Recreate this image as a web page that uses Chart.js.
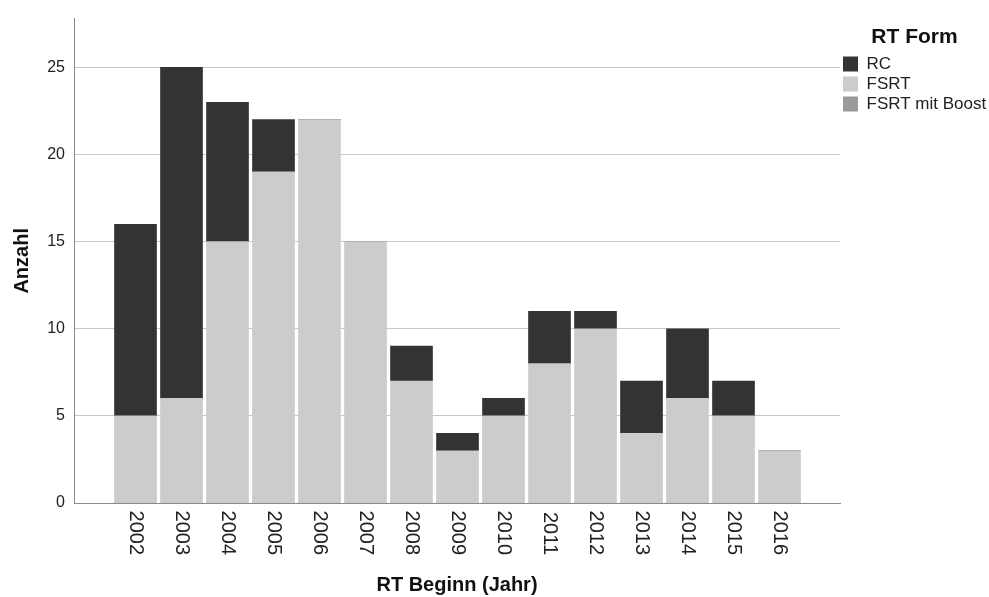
<!DOCTYPE html>
<html>
<head>
<meta charset="utf-8">
<script src="https://cdn.jsdelivr.net/npm/chart.js@4/dist/chart.umd.min.js"></script>
<style>
  html, body { margin: 0; padding: 0; background: #ffffff; }
  #wrap { width: 989px; height: 597px; }
</style>
</head>
<body>
<div id="wrap"><canvas id="c" width="989" height="597"></canvas></div>
<script>
// ---- data ----
const years = [2002, 2003, 2004, 2005, 2006, 2007, 2008, 2009, 2010, 2011, 2012, 2013, 2014, 2015, 2016];
const xTickLabels = ['2002', '2003', '2004', '2005', '2006', '2007', '2008', '2009', '2010', '2011', '2012', '2013', '2014', '2015', '2016'];
const fsrtValues  = [5, 6, 15, 19, 22, 15, 7, 3, 5, 8, 10, 4, 6, 5, 3];
const rcValues    = [11, 19, 8, 3, 0, 0, 2, 1, 1, 3, 1, 3, 4, 2, 0];
const boostValues = [0, 0, 0, 0, 0, 0, 0, 0, 0, 0, 0, 0, 0, 0, 0];
const yTickValues = [0, 5, 10, 15, 20, 25];
const seriesNames = ['RC', 'FSRT', 'FSRT mit Boost'];
const legendTitle = 'RT Form';
const xTitle = 'RT Beginn (Jahr)';
const yTitle = 'Anzahl';

const FONT = "'Liberation Sans', Arial, Helvetica, sans-serif";
const gridColor = '#c8c8c8';
const axisColor = '#8a8a8a';

const toPoints = vals => years.map((y, i) => ({ x: y, y: vals[i] }));

const chart = new Chart(document.getElementById('c'), {
  type: 'bar',
  data: {
    datasets: [
      { label: seriesNames[2], data: toPoints(boostValues), backgroundColor: '#9a9a9a', borderWidth: 0, barThickness: 42 },
      { label: seriesNames[1], data: toPoints(fsrtValues),  backgroundColor: '#cccccc', borderWidth: 0, barThickness: 42 },
      { label: seriesNames[0], data: toPoints(rcValues),    backgroundColor: '#333333', borderWidth: 0, barThickness: 42 }
    ]
  },
  options: {
    responsive: false,
    animation: false,
    devicePixelRatio: 1,
    layout: { padding: { top: 15, left: 0, right: 0, bottom: 0 } },
    plugins: {
      tooltip: { enabled: false },
      legend: {
        position: 'right',
        align: 'start',
        reverse: true,
        maxWidth: 149,
        title: {
          display: true,
          text: legendTitle,
          color: '#111',
          font: { family: FONT, size: 21, weight: 'bold' },
          padding: { top: 12, bottom: 0.3 }
        },
        labels: {
          boxWidth: 15,
          boxHeight: 15,
          padding: 3,
          color: '#222',
          font: { family: FONT, size: 17 }
        }
      }
    },
    scales: {
      x: {
        type: 'linear',
        stacked: true,
        offset: false,
        min: 2000.663,
        max: 2017.315,
        afterBuildTicks: s => { s.ticks = years.map(v => ({ value: v })); },
        afterFit: s => { s.height = 94; },
        grid: { display: false, drawTicks: false },
        border: { display: true, color: axisColor, width: 1 },
        ticks: {
          autoSkip: false,
          minRotation: -90,
          maxRotation: -90,
          padding: 52,
          color: '#222',
          font: { family: FONT, size: 20 },
          callback: (v, i) => xTickLabels[i]
        },
        title: {
          display: true,
          text: xTitle,
          color: '#111',
          font: { family: FONT, size: 20, weight: 'bold' },
          padding: { top: 0, bottom: 0 }
        }
      },
      y: {
        stacked: true,
        min: 0,
        max: 27.8,
        afterBuildTicks: s => { s.ticks = yTickValues.map(v => ({ value: v })); },
        afterFit: s => { s.width = 74; },
        grid: {
          drawTicks: false,
          color: c => (c.tick && c.tick.value === 0) ? axisColor : gridColor,
          lineWidth: 1
        },
        border: { display: true, color: axisColor, width: 1 },
        ticks: {
          padding: 9,
          color: '#222',
          font: { family: FONT, size: 16 },
          callback: v => String(v)
        },
        title: {
          display: true,
          text: yTitle,
          color: '#111',
          font: { family: FONT, size: 20, weight: 'bold' },
          padding: { top: 10.5, bottom: 0 }
        }
      }
    }
  }
});
</script>
</body>
</html>
